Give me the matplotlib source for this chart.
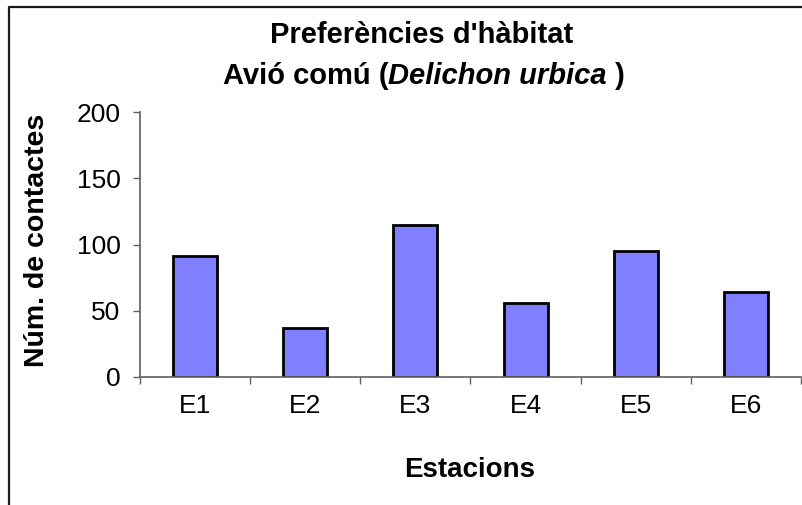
import matplotlib
matplotlib.use("Agg")
import matplotlib.pyplot as plt
from matplotlib.lines import Line2D
from matplotlib.ticker import FixedLocator

plt.rcParams["font.family"] = ["Liberation Sans", "DejaVu Sans"]

# data
estacions = ["E1", "E2", "E3", "E4", "E5", "E6"]
contactes = [91, 37, 115, 56, 95, 64]
y_ticks = [0, 50, 100, 150, 200]

W, H = 803, 505
fig = plt.figure(figsize=(W / 100, H / 100), dpi=100)
fig.patch.set_facecolor("white")

# plot area in pixels: x 140..801, y 112..377
ax = fig.add_axes([140 / W, 1 - 377 / H, (801 - 140) / W, (377 - 112) / H])

pos = [i + 0.5 for i in range(len(estacions))]
ax.bar(pos, contactes, width=0.4, color="#8080FF", edgecolor="black", linewidth=2.0)

ax.set_xlim(0, len(estacions))
ax.set_ylim(0, 200)
ax.set_yticks(y_ticks)
ax.tick_params(axis="y", labelsize=19, length=5, width=1, color="#606060",
               direction="out", pad=9)
ax.xaxis.set_major_locator(FixedLocator(range(len(estacions) + 1)))
ax.xaxis.set_minor_locator(FixedLocator(pos))
ax.set_xticklabels([], minor=False)
ax.set_xticklabels(estacions, minor=True)
ax.tick_params(axis="x", which="major", length=5, width=1, color="#606060", direction="out")
ax.tick_params(axis="x", which="minor", length=0, labelsize=19, pad=12)

for s in ["top", "right"]:
    ax.spines[s].set_visible(False)
for s in ["left", "bottom"]:
    ax.spines[s].set_color("#606060")
    ax.spines[s].set_linewidth(1.2)

# axis titles
fig.text(37 / W, 1 - 240 / H, "Núm. de contactes", rotation=90, fontsize=20.5,
         fontweight="bold", ha="center", va="center")
fig.text(470 / W, 1 - 470 / H, "Estacions", fontsize=20, fontweight="bold",
         ha="center", va="center")

# title, two lines, second one partly italic
fig.text(422 / W, 1 - 43 / H, "Preferències d'hàbitat", fontsize=21,
         fontweight="bold", ha="center", va="baseline")

parts = [("Avió comú (", "normal"), ("Delichon urbica", "italic"), (" )", "normal")]
renderer = fig.canvas.get_renderer()
texts = []
for txt, style in parts:
    t = fig.text(0, 1 - 84 / H, txt, fontsize=21, fontweight="bold", style=style,
                 ha="left", va="baseline")
    texts.append(t)
widths = [t.get_window_extent(renderer).width for t in texts]
x0 = 424 - sum(widths) / 2
for t, w in zip(texts, widths):
    t.set_x(x0 / W)
    x0 += w

# chart frame (left and top edges visible in the crop)
fig.add_artist(Line2D([9 / W, 9 / W, 1], [0, 1 - 7 / H, 1 - 7 / H],
                      transform=fig.transFigure, color="#1a1a1a", linewidth=1.6))

fig.savefig("out.png", dpi=100)
